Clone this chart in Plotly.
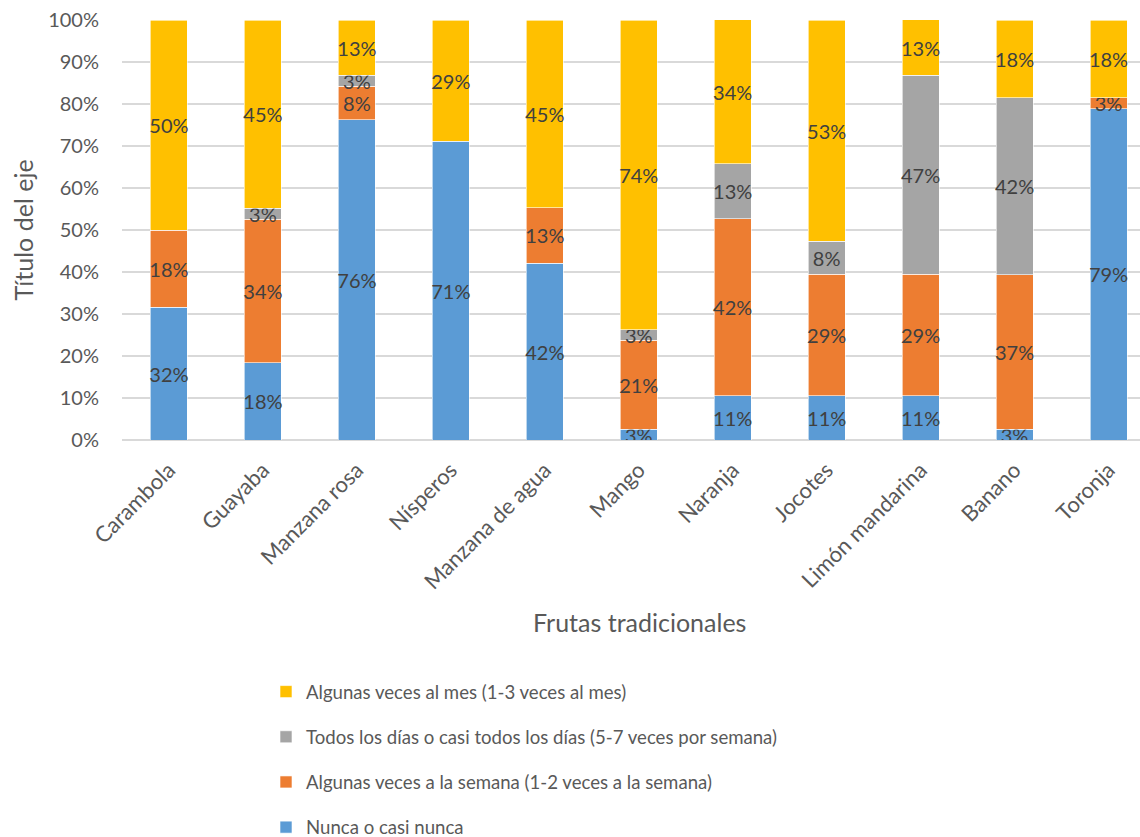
import plotly.graph_objects as go

categories = ["Carambola", "Guayaba", "Manzana rosa", "Nísperos", "Manzana de agua",
              "Mango", "Naranja", "Jocotes", "Limón mandarina", "Banano", "Toronja"]

series_names = [
    "Nunca o casi nunca",
    "Algunas veces a la semana (1-2 veces a la semana)",
    "Todos los días o casi todos los días (5-7 veces por semana)",
    "Algunas veces al mes (1-3 veces al mes)",
]

nunca = [31.6, 18.4, 76.3, 71.1, 42.1, 2.6, 10.53, 10.53, 10.53, 2.6, 78.9]
semana = [18.4, 34.2, 7.9, None, 13.2, 21.1, 42.1, 28.9, 28.9, 36.8, 2.6]
todos_dias = [None, 2.6, 2.6, None, None, 2.6, 13.2, 7.9, 47.4, 42.1, None]
al_mes = [50.0, 44.7, 13.2, 28.9, 44.7, 73.7, 34.2, 52.6, 13.2, 18.4, 18.4]

colors = ["#5B9BD5", "#ED7D31", "#A5A5A5", "#FFC000"]
values = [nunca, semana, todos_dias, al_mes]

y_ticks = [0, 10, 20, 30, 40, 50, 60, 70, 80, 90, 100]
y_tick_labels = [f"{v}%" for v in y_ticks]

FONT = "Lato"
TXT = "#595959"

fig = go.Figure()
for i, (name, vals, col) in enumerate(zip(series_names, values, colors)):
    fig.add_trace(go.Bar(
        x=categories, y=vals, name=name, legendgroup=name,
        legendrank=10 - i,
        marker=dict(color=col, line=dict(color="rgba(255,255,255,0.8)", width=0.75)),
        text=[None if v is None else f"{round(v):.0f}%" for v in vals],
        textposition="inside", insidetextanchor="middle", textangle=0,
        constraintext="none",
        textfont=dict(family=FONT, size=20, color="#404040"),
        width=0.394,
    ))

plot_left = 121.5
plot_w = 1140 - plot_left
fig.update_layout(
    width=1140, height=837,
    barmode="stack",
    plot_bgcolor="white", paper_bgcolor="white",
    margin=dict(l=plot_left, r=0, t=20, b=397, autoexpand=False),
    font=dict(family=FONT, size=19, color=TXT),
    uniformtext=dict(minsize=20, mode="show"),
    xaxis=dict(range=[-0.5, plot_w / 94 - 0.5], tickangle=-45, showgrid=False,
               showline=False, ticks="", automargin=False, ticklabelstandoff=12,
               tickfont=dict(size=22, color=TXT)),
    yaxis=dict(range=[0, 100], tickvals=y_ticks, ticktext=y_tick_labels,
               showgrid=True, gridcolor="#D9D9D9", gridwidth=1.5,
               zeroline=True, zerolinecolor="#D9D9D9", zerolinewidth=1.5,
               automargin=False,
               tickfont=dict(size=20, color=TXT), ticklabelstandoff=22),
    legend=dict(traceorder="grouped", tracegroupgap=18,
                xref="container", yref="container",
                x=266 / 1140, xanchor="left",
                y=1 - 673 / 837, yanchor="top",
                font=dict(size=18.6, color=TXT), bgcolor="rgba(0,0,0,0)"),
    showlegend=True,
)
fig.add_annotation(text="Frutas tradicionales", x=(639 - plot_left) / plot_w,
                   y=(440 - 622) / 420, xref="paper", yref="paper",
                   xanchor="center", yanchor="middle",
                   showarrow=False, font=dict(size=25, color=TXT))
fig.add_annotation(text="Título del eje", x=(22 - plot_left) / plot_w,
                   y=(440 - 230) / 420, xref="paper", yref="paper", textangle=-90,
                   xanchor="center", yanchor="middle",
                   showarrow=False, font=dict(size=25, color=TXT))

fig.write_html("out.html", config={"displayModeBar": False},
               post_script="document.body.style.margin='0';document.body.style.overflow='hidden';")
